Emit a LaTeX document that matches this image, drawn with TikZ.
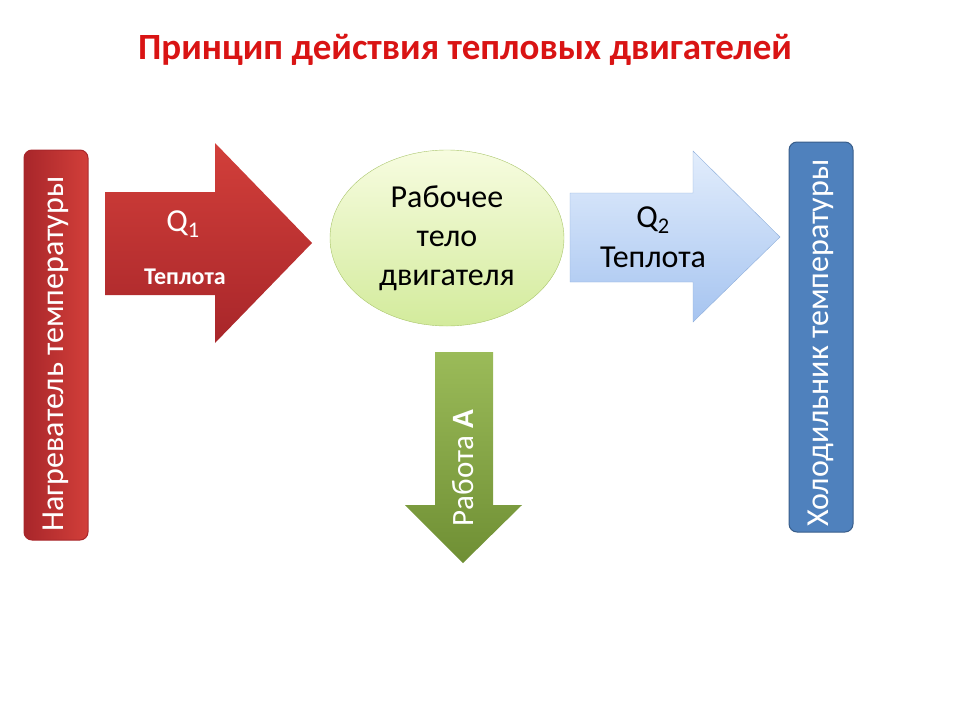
\documentclass[tikz,border=0pt]{standalone}
\usepackage{fontspec}
\setmainfont{Carlito}
\usetikzlibrary{positioning,shapes.geometric}
\definecolor{titlered}{HTML}{D91414}
\definecolor{heattop}{HTML}{D23F3A}
\definecolor{heatbot}{HTML}{A8262A}
\definecolor{coldfill}{HTML}{4F81BD}
\definecolor{colddraw}{HTML}{385D8A}
\definecolor{bodytop}{HTML}{F7FCE0}
\definecolor{bodybot}{HTML}{D3EB9C}
\definecolor{bodydraw}{HTML}{A9C56B}
\definecolor{outtop}{HTML}{E2EDFC}
\definecolor{outbot}{HTML}{A6C4F0}
\definecolor{outdraw}{HTML}{8EAEDB}
\definecolor{worktop}{HTML}{9BBB59}
\definecolor{workbot}{HTML}{6F8F34}

\begin{document}
\begin{tikzpicture}[x=1pt, y=-1pt,
  titletext/.style={font=\fontsize{37}{40}\selectfont\bfseries, text=titlered},
  barbox/.style={rotate=90, rounded corners=8pt, line width=1pt,
    minimum width=390pt, minimum height=64pt, inner sep=0pt,
    text=white, font=\fontsize{32}{36}\selectfont},
  bigtext/.style={font=\fontsize{32}{39}\selectfont, align=center},
  smalltext/.style={font=\fontsize{24}{28}\selectfont\bfseries, text=white}
]
\useasboundingbox (0,0) rectangle (960,720);

% title
\node[titletext] (title) at (465,50) {Принцип действия тепловых двигателей};

% heater and cooler
\node[barbox, draw=heatbot, left color=heatbot, right color=heattop] (heater) at (56,345) {Нагреватель температуры\hspace*{18pt}};
\node[barbox, draw=colddraw, fill=coldfill] (cooler) at (821,337) {Холодильник температуры\hspace*{12pt}};

% working body
\node[ellipse, draw=bodydraw, top color=bodytop, bottom color=bodybot,
  minimum width=234pt, minimum height=176pt, inner sep=0pt, bigtext] (body) at (447,238)
  {Рабочее\\тело\\двигателя};

% heat in
\shade[top color=heattop, bottom color=heatbot]
  (105,192) -- (215,192) -- (215,143) -- (312,243) -- (215,343)
  -- (215,295) -- (105,295) -- cycle;
\node[bigtext, text=white] (qin) at (183,224) {Q\textsubscript{1}};
\node[smalltext] (heatin) at (185,277) {Теплота};

% heat out
\shade[draw=outdraw, top color=outtop, bottom color=outbot]
  (570,193) -- (693,193) -- (693,151) -- (780,237) -- (693,322)
  -- (693,282) -- (570,282) -- cycle;
\node[bigtext] (qout) at (653,220) {Q\textsubscript{2}};
\node[bigtext] (heatout) at (653,257) {Теплота};

% work
\shade[top color=worktop, bottom color=workbot]
  (435,352) -- (493,352) -- (493,505) -- (522,505) -- (463,563)
  -- (405,505) -- (435,505) -- cycle;
\node[rotate=90, text=white, font=\fontsize{31}{34}\selectfont] (work) at (463,468) {Работа \textbf{А}};
\end{tikzpicture}
\end{document}
